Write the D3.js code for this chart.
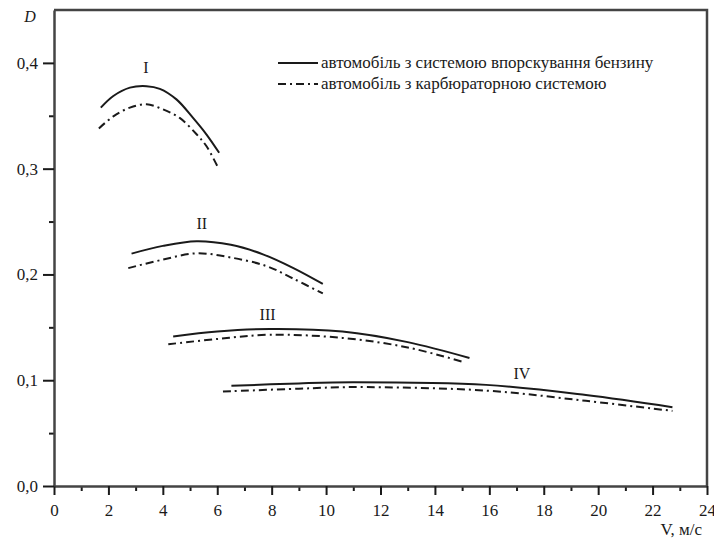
<!DOCTYPE html>
<html>
<head>
<meta charset="utf-8">
<script src="https://cdn.jsdelivr.net/npm/d3@7"></script>
<style>
  body { margin: 0; background: #fff; }
  svg text { font-family: "Liberation Serif", "Times New Roman", "DejaVu Serif", serif !important; }
</style>
</head>
<body>
<div id="vis"></div>
<script>
// Дані (V, м/с та D)
const vI_inj = [1.72, 2.18, 2.79, 3.4, 3.89, 4.5, 5.11, 5.6, 6.07];
const dI_inj = [0.3577, 0.3687, 0.3766, 0.378, 0.3755, 0.3655, 0.348, 0.3325, 0.315];
const vI_carb = [1.65, 2.18, 2.79, 3.4, 4.01, 4.62, 5.24, 5.6, 6.03];
const dI_carb = [0.338, 0.3495, 0.3577, 0.3608, 0.356, 0.348, 0.3325, 0.3214, 0.301];

const vII_inj = [2.85, 4, 5.24, 6.5, 7.68, 8.8, 9.88];
const dII_inj = [0.2197, 0.227, 0.2314, 0.228, 0.219, 0.206, 0.191];
const vII_carb = [2.73, 4, 5.24, 6.5, 7.8, 8.8, 9.88];
const dII_carb = [0.206, 0.214, 0.220, 0.216, 0.208, 0.196, 0.182];

const vIII_inj = [4.38, 6, 7.93, 10.6, 13, 15.27];
const dIII_inj = [0.1414, 0.146, 0.1484, 0.146, 0.136, 0.121];
const vIII_carb = [4.2, 6, 7.93, 10.6, 13, 15.08];
const dIII_carb = [0.134, 0.139, 0.143, 0.140, 0.131, 0.117];

const vIV_inj = [6.52, 9, 10.98, 15.88, 19.55, 22.73];
const dIV_inj = [0.0947, 0.097, 0.098, 0.0956, 0.086, 0.0745];
const vIV_carb = [6.21, 9, 10.98, 15.88, 19.55, 22.73];
const dIV_carb = [0.0893, 0.092, 0.0935, 0.0902, 0.0805, 0.071];

const gearNames = ["I", "II", "III", "IV"];
const gearLabelV = [3.38, 5.43, 7.85, 17.2];
const gearLabelD = [0.396, 0.249, 0.163, 0.107];

const xMajor = [0, 2, 4, 6, 8, 10, 12, 14, 16, 18, 20, 22, 24];
const xMinor = [1, 3, 5, 7, 9, 11, 13, 15, 17, 19, 21, 23];
const yMajor = [0, 0.1, 0.2, 0.3, 0.4];
const yMinor = [0.05, 0.15, 0.25, 0.35];

const legendNames = [
  "автомобіль з системою впорскування бензину",
  "автомобіль з карбюраторною системою"
];

const WIDTH = 714, HEIGHT = 540;
const margins = { top: 10, right: 7, bottom: 54, left: 54 };
const DASH = "8,4,2,4";
const INK = "#1a1a1a";

const svg = d3.select("#vis").append("svg")
  .attr("width", WIDTH).attr("height", HEIGHT);

const x = d3.scaleLinear().domain([0, 24])
  .range([margins.left, WIDTH - margins.right]);
const y = d3.scaleLinear().domain([0, 0.45])
  .range([HEIGHT - margins.bottom, margins.top]);

const comma = (d) => d3.format(".1f")(d).replace(".", ",");

// мінорні поділки
svg.append("g")
  .attr("transform", `translate(0,${y(0)})`)
  .call(d3.axisBottom(x).tickValues(xMinor).tickSize(5).tickFormat(""))
  .call((g) => g.select(".domain").remove());
svg.append("g")
  .attr("transform", `translate(${x(0)},0)`)
  .call(d3.axisLeft(y).tickValues(yMinor).tickSize(5).tickFormat(""))
  .call((g) => g.select(".domain").remove());

// основні осі
svg.append("g")
  .attr("transform", `translate(0,${y(0)})`)
  .call(d3.axisBottom(x).tickValues(xMajor).tickSize(9).tickSizeOuter(0).tickPadding(9));
svg.append("g")
  .attr("transform", `translate(${x(0)},0)`)
  .call(d3.axisLeft(y).tickValues(yMajor).tickSize(11).tickSizeOuter(0).tickPadding(5).tickFormat(comma));

svg.selectAll(".tick line").attr("stroke", INK).attr("stroke-width", 2);
svg.selectAll(".domain").attr("stroke", "#444").attr("stroke-width", 2.5);
svg.selectAll(".tick text").attr("font-size", 17).attr("fill", INK);

// рамка зверху та справа
svg.append("path")
  .attr("d", `M${x(0)},${y(0.45)}H${x(24)}V${y(0)}`)
  .attr("fill", "none").attr("stroke", "#444").attr("stroke-width", 2.5);

// підписи осей
svg.append("text").attr("x", 30).attr("y", 22)
  .attr("text-anchor", "middle").attr("font-style", "italic")
  .attr("font-size", 16).attr("fill", INK).text("D");
svg.append("text").attr("x", x(24) - 5).attr("y", 535)
  .attr("text-anchor", "end").attr("font-size", 17).attr("fill", INK).text("V, м/с");

// криві
const line = d3.line()
  .x((d) => x(d[0])).y((d) => y(d[1]))
  .curve(d3.curveCatmullRom.alpha(0.5));

const series = [
  [vI_inj, dI_inj, false], [vI_carb, dI_carb, true],
  [vII_inj, dII_inj, false], [vII_carb, dII_carb, true],
  [vIII_inj, dIII_inj, false], [vIII_carb, dIII_carb, true],
  [vIV_inj, dIV_inj, false], [vIV_carb, dIV_carb, true]
];

svg.append("g").selectAll("path")
  .data(series)
  .join("path")
  .attr("d", (s) => line(d3.zip(s[0], s[1])))
  .attr("fill", "none")
  .attr("stroke", INK)
  .attr("stroke-width", 2)
  .attr("stroke-dasharray", (s) => s[2] ? DASH : null);

// позначки передач
svg.append("g").selectAll("text")
  .data(gearNames)
  .join("text")
  .attr("x", (d, i) => x(gearLabelV[i]))
  .attr("y", (d, i) => y(gearLabelD[i]) + 6)
  .attr("text-anchor", "middle")
  .attr("font-size", 16)
  .attr("fill", INK)
  .text((d) => d);

// легенда
const legend = svg.append("g").attr("transform", "translate(278,63)");
legendNames.forEach((name, i) => {
  legend.append("line")
    .attr("x1", 0).attr("x2", 40).attr("y1", i * 21).attr("y2", i * 21)
    .attr("stroke", INK).attr("stroke-width", 2)
    .attr("stroke-dasharray", i === 1 ? DASH : null);
  legend.append("text")
    .attr("x", 43).attr("y", i * 21 + 5)
    .attr("font-size", 17).attr("fill", INK)
    .text(name);
});
</script>
</body>
</html>
